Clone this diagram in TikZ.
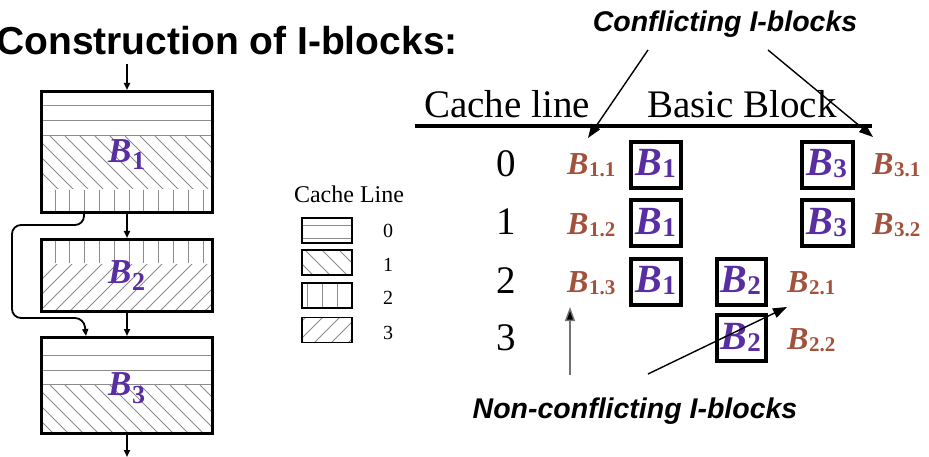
\documentclass[tikz,border=0pt]{standalone}
\usepackage{fontspec}
\setmainfont{Liberation Serif}[BoldItalicFont={Liberation Serif/BI}]
\newfontfamily\arialf{Liberation Sans}
\usetikzlibrary{arrows.meta}
\definecolor{bpurple}{RGB}{88,46,162}
\definecolor{bbrown}{RGB}{162,82,60}
\definecolor{hatchgray}{gray}{0.55}
\newcommand\fs[1]{\fontsize{#1}{#1}\selectfont}
% B with a bold subscript: #1 size of B, #2 size of subscript, #3 drop, #4 subscript
\newcommand\bname[4]{{\fs{#1}\bfseries\itshape B}\kern0.5pt\raisebox{-#3}{\fs{#2}\bfseries #4}}
\begin{document}
\begin{tikzpicture}[x=1pt,y=-1pt,
  hatch/.style={draw=hatchgray,line width=0.8pt},
  blk/.style={draw,line width=3pt,minimum width=171pt,inner sep=0pt},
  flow/.style={line width=1.8pt,-{Triangle[length=7pt,width=6pt]}},
  arr/.style={line width=1.4pt,-{Triangle[length=14pt,width=10pt]}},
  legbox/.style={draw,line width=1.1pt,minimum width=50pt,minimum height=25pt,inner sep=0pt},
  pbox/.style={draw,line width=4pt,minimum height=46pt,inner sep=0pt},
  brlab/.style={text=bbrown,inner sep=0pt,anchor=base west},
  rownum/.style={inner sep=0pt,anchor=base,font=\fs{39}},
  legnum/.style={inner sep=0pt,anchor=base,font=\fs{20}},
  blab/.style={text=bpurple,inner sep=0pt,anchor=base west}]
\useasboundingbox (0,0) rectangle (929,457);

% ---- title ----
\node[anchor=base west,inner sep=0pt,font=\arialf\bfseries\fs{39}] (title) at (-4,55) {Construction of I-blocks:};

% ---- hatching of block B1 ----
\foreach \y in {105,120,135} \draw[hatch] (43,\y) -- (211,\y);
\begin{scope}
  \clip (43,136) rectangle (211,189);
  \foreach \x in {-25,-10,...,215} \draw[hatch] (\x,136) -- ++(60,60);
\end{scope}
\foreach \x in {55,69.8,...,206} \draw[hatch] (\x,190) -- (\x,211);

% ---- hatching of block B2 ----
\foreach \x in {55,69.8,...,206} \draw[hatch] (\x,241) -- (\x,263);
\begin{scope}
  \clip (43,264) rectangle (211,311);
  \foreach \x in {-20,-5,...,215} \draw[hatch] (\x,311) -- ++(60,-60);
\end{scope}

% ---- hatching of block B3 ----
\foreach \y in {355,370,384} \draw[hatch] (43,\y) -- (211,\y);
\begin{scope}
  \clip (43,385) rectangle (211,433);
  \foreach \x in {-25,-10,...,215} \draw[hatch] (\x,385) -- ++(60,60);
\end{scope}

% ---- basic blocks ----
\node[blk,minimum height=121pt] (b1) at (127,152) {};
\node[blk,minimum height=72pt] (b2) at (127,275.5) {};
\node[blk,minimum height=96pt] (b3) at (127,385.5) {};
\node[blab] (b1l) at (108,163) {\bname{35}{26}{7pt}{1}};
\node[blab] (b2l) at (108,283) {\bname{35}{26}{8pt}{2}};
\node[blab] (b3l) at (108,395) {\bname{35}{26}{8pt}{3}};

% ---- control flow ----
\coordinate (entry) at (127,64);
\coordinate (exit) at (127,457);
\draw[flow] (entry) -- (b1.north);
\draw[flow] (b1.south) -- (b2.north);
\draw[flow] (b2.south) -- (b3.north);
\draw[flow] (b3.south) -- (exit);
\draw[flow,rounded corners=9pt] ([xshift=-43pt]b1.south) |- (12,225) |- (84,318) -- ([xshift=-41pt]b3.north);

% ---- legend ----
\node[inner sep=0pt,anchor=base,font=\fs{24}] (legt) at (349,203) {Cache Line};
\foreach \y in {225,238} \draw[hatch] (303,\y) -- (351,\y);
\begin{scope}
  \clip (302,250) rectangle (352,275);
  \foreach \x in {288,305,...,350} \draw[hatch] (\x,250) -- ++(30,30);
\end{scope}
\foreach \x in {307,322,337} \draw[hatch] (\x,283) -- (\x,308);
\begin{scope}
  \clip (302,317) rectangle (352,343);
  \foreach \x in {280,297,...,350} \draw[hatch] (\x,343) -- ++(30,-30);
\end{scope}
\node[legbox] (leg0) at (327,230.5) {};
\node[legbox] (leg1) at (327,262.5) {};
\node[legbox] (leg2) at (327,295.5) {};
\node[legbox] (leg3) at (327,330) {};
\node[legnum] (ln0) at (388,238) {0};
\node[legnum] (ln1) at (388,271) {1};
\node[legnum] (ln2) at (388,304) {2};
\node[legnum] (ln3) at (388,339) {3};

% ---- table header ----
\node[inner sep=0pt,anchor=base west,font=\fs{39}] (hcl) at (424,118) {Cache line};
\node[inner sep=0pt,anchor=base west,font=\fs{39}] (hbb) at (647,118) {Basic Block};
\coordinate (rl0) at (415,126);
\coordinate (rl1) at (872,126);
\draw[line width=4pt] (rl0) -- (rl1);

% ---- cache line numbers ----
\node[rownum] (r0) at (506,177) {0};
\node[rownum] (r1) at (506,235) {1};
\node[rownum] (r2) at (506,293) {2};
\node[rownum] (r3) at (506,350) {3};

% ---- boxed basic blocks per cache line ----
\node[pbox,minimum width=50pt] (c01) at (656,165) {};
\node[pbox,minimum width=50pt] (c11) at (656,223) {};
\node[pbox,minimum width=50pt] (c21) at (656,281.5) {};
\node[pbox,minimum width=49pt] (c22) at (741.5,281.5) {};
\node[pbox,minimum width=49pt] (c32) at (741.5,338) {};
\node[pbox,minimum width=51pt] (c03) at (827.5,165) {};
\node[pbox,minimum width=51pt] (c13) at (827.5,223) {};
\node[blab] at (635,176) {\bname{40}{27}{2pt}{1}};
\node[blab] at (635,234) {\bname{40}{27}{2pt}{1}};
\node[blab] at (635,292) {\bname{40}{27}{2pt}{1}};
\node[blab] at (720,292) {\bname{40}{27}{2pt}{2}};
\node[blab] at (720,349) {\bname{40}{27}{2pt}{2}};
\node[blab] at (806,176) {\bname{40}{27}{2pt}{3}};
\node[blab] at (806,234) {\bname{40}{27}{2pt}{3}};

% ---- I-block names ----
\node[brlab] (i11) at (567,175) {\bname{32}{21}{2pt}{1.1}};
\node[brlab] (i12) at (567,234) {\bname{32}{21}{2pt}{1.2}};
\node[brlab] (i13) at (567,292) {\bname{32}{21}{2pt}{1.3}};
\node[brlab] (i21) at (787,292) {\bname{32}{21}{2pt}{2.1}};
\node[brlab] (i22) at (787,349) {\bname{32}{21}{2pt}{2.2}};
\node[brlab] (i31) at (872,175) {\bname{32}{21}{2pt}{3.1}};
\node[brlab] (i32) at (872,234) {\bname{32}{21}{2pt}{3.2}};

% ---- annotations ----
\node[inner sep=0pt,anchor=base,font=\arialf\bfseries\itshape\fs{28.5}] (conf) at (725,32) {Conflicting I-blocks};
\node[inner sep=0pt,anchor=base,font=\arialf\bfseries\itshape\fs{28.5}] (nconf) at (635,418) {Non-conflicting I-blocks};
\coordinate (cfa) at (648,50);
\coordinate (cfb) at (768,50);
\coordinate (cfta) at (588,138);
\coordinate (cftb) at (873,137);
\draw[arr] (cfa) -- (cfta);
\draw[arr] (cfb) -- (cftb);
\coordinate (nca) at (570,375);
\coordinate (ncb) at (648,374);
\coordinate (ncta) at (570,307);
\coordinate (nctb) at (787,307);
\draw[arr,draw=black!55,-{Triangle[length=14pt,width=10pt,fill=black]}] (nca) -- (ncta);
\draw[arr] (ncb) -- (nctb);
\end{tikzpicture}
\end{document}
